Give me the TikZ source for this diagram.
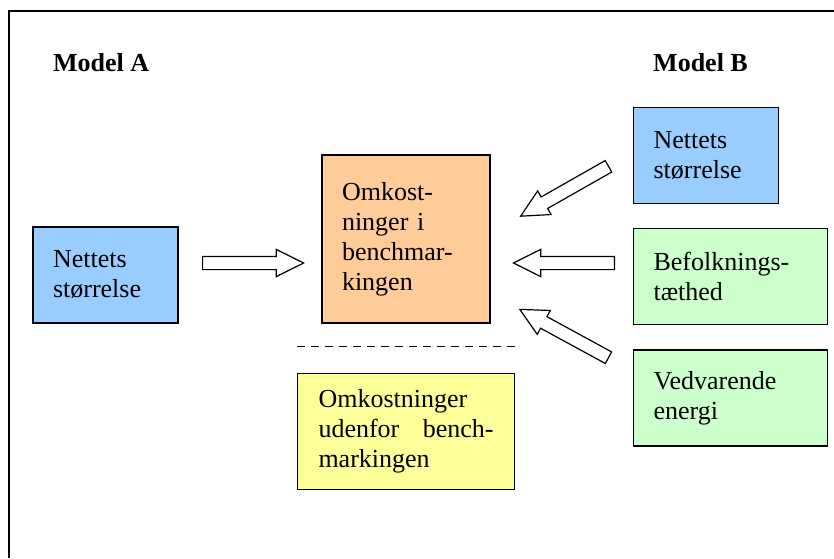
\documentclass[tikz,border=0pt]{standalone}
\usepackage{fontspec}
\setmainfont{Liberation Serif}
\usepackage{tikz}
\usetikzlibrary{shapes.arrows, positioning, calc}
\definecolor{boxblue}{RGB}{153,204,255}
\definecolor{boxorange}{RGB}{255,204,153}
\definecolor{boxyellow}{RGB}{255,255,153}
\definecolor{boxgreen}{RGB}{204,255,204}

\begin{document}
\begin{tikzpicture}[
        x=1pt, y=1pt,
        font=\fontsize{26}{30}\selectfont,
        block/.style={rectangle, draw, line width=1.2pt, align=left, inner xsep=20pt, inner ysep=0pt, minimum height=96pt},
        blue_block/.style={block, fill=boxblue, text width=105pt},
        green_block/.style={block, fill=boxgreen, text width=154pt},
        fat_arrow/.style={single arrow, draw, fill=white, line width=1.2pt, minimum height=101pt, inner sep=6pt, single arrow head extend=7pt, single arrow tip angle=53, anchor=tail},
        heading/.style={font=\fontsize{26}{30}\selectfont\bfseries, inner sep=0pt, anchor=base west}
    ]
    \useasboundingbox (0,0) rectangle (834,558);

    % ramme
    \draw[line width=2pt] (9,0) |- (834,547);

    % overskrifter
    \node[heading] (headA) at (53,486) {Model A};
    \node[heading] (headB) at (653,486) {Model B};

    % midten
    \node[block, fill=boxorange, text width=128pt, minimum height=168pt] (cost) at (406,319) {Omkost-\\ninger i\\benchmar-\\kingen};
    \node[block, fill=boxyellow, text width=175pt, inner xsep=21pt, minimum height=116pt, below=49pt of cost] (outside) {Omkostninger\\udenfor\hfill bench-\\markingen};
    \coordinate (dash_l) at ($(outside.north west)+(0,26)$);
    \coordinate (dash_r) at ($(outside.north east)+(0,26)$);
    \draw[line width=1.2pt, dash pattern=on 8pt off 6pt] (dash_l) -- (dash_r);

    % Model A
    \node[blue_block] (sizeA) at (105.5,283) {Nettets\\størrelse};

    % Model B
    \node[blue_block, anchor=north west] (sizeB) at (633,451) {Nettets\\størrelse};
    \node[green_block, anchor=north west] (density) at ([yshift=-24pt]sizeB.south west) {Befolknings-\\tæthed};
    \node[green_block, anchor=north west] (energy) at ([yshift=-24pt]density.south west) {Vedvarende\\energi};

    % pile
    \node[fat_arrow] (arrowA) at (202,295) {};
    \node[fat_arrow, rotate=209.6] (arrowB1) at (609,392) {};
    \node[fat_arrow, rotate=180] (arrowB2) at (615,295) {};
    \node[fat_arrow, rotate=151.4] (arrowB3) at (609,200) {};

\end{tikzpicture}
\end{document}
